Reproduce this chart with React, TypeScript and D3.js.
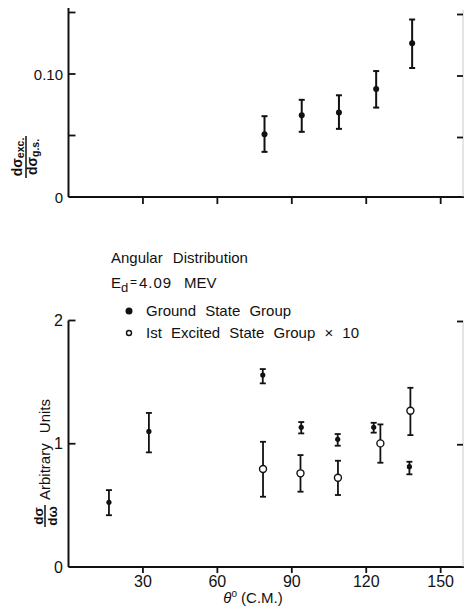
import React from "react";
import * as d3 from "d3";

const ratioAngles = [79, 94, 109, 124, 138.5];
const ratioValues = [0.0511, 0.0665, 0.0687, 0.0878, 0.1251];
const ratioLow = [0.0367, 0.053, 0.0554, 0.0727, 0.1049];
const ratioHigh = [0.0657, 0.079, 0.0827, 0.1024, 0.1443];

const groundAngles = [16.3, 32.4, 78.3, 93.8, 108.5, 123.0, 137.4];
const groundValues = [0.525, 1.1, 1.557, 1.133, 1.036, 1.133, 0.814];
const groundLow = [0.42, 0.93, 1.49, 1.084, 0.984, 1.09, 0.752];
const groundHigh = [0.624, 1.25, 1.606, 1.176, 1.079, 1.17, 0.854];

const excitedAngles = [78.4, 93.5, 108.6, 125.7, 137.8];
const excitedValues = [0.795, 0.76, 0.724, 1.003, 1.268];
const excitedLow = [0.57, 0.611, 0.584, 0.846, 1.07];
const excitedHigh = [1.016, 0.908, 0.862, 1.157, 1.454];

const xTicks = [30, 60, 90, 120, 150];
const topYTicks = [0.05, 0.1, 0.15];
const topYLabels = [
  { v: 0, t: "0" },
  { v: 0.1, t: "0.10" },
];
const botYTicks = [1, 2];
const botYLabels = [
  { v: 0, t: "0" },
  { v: 1, t: "1" },
  { v: 2, t: "2" },
];

const FONT = "'Liberation Sans', Arial, sans-serif";
const INK = "#111";

export default function App() {
  const x = d3.scaleLinear().domain([0, 159]).range([68.5, 463]);
  const yTop = d3.scaleLinear().domain([0, 0.15]).range([197, 12.5]);
  const yBot = d3.scaleLinear().domain([0, 2]).range([567, 320.5]);
  const x0 = x(0);
  const xR = 463;

  const errBar = (
    key: string,
    cx: number,
    lo: number,
    hi: number,
    cap: number,
    sw: number
  ) => (
    <g key={key} stroke={INK} strokeWidth={sw}>
      <line x1={cx} x2={cx} y1={lo} y2={hi} />
      <line x1={cx - cap} x2={cx + cap} y1={lo} y2={lo} />
      <line x1={cx - cap} x2={cx + cap} y1={hi} y2={hi} />
    </g>
  );

  return (
    <svg
      width={464}
      height={608}
      style={{ position: "absolute", left: 0, top: 0, background: "#fff" }}
      fontFamily={FONT}
    >
      <rect width={464} height={608} fill="#fff" />

      {/* ---------- TOP PLOT ---------- */}
      <g>
        <line x1={x0} x2={x0} y1={8} y2={yTop(0)} stroke={INK} strokeWidth={2} />
        <line x1={x0} x2={464} y1={yTop(0)} y2={yTop(0)} stroke={INK} strokeWidth={2} />
        <line x1={xR} x2={xR} y1={10} y2={yTop(0)} stroke="#bbb" strokeWidth={0.8} />
        {topYTicks.map((t) => (
          <g key={"tyt" + t} stroke={INK} strokeWidth={1.8}>
            <line x1={x0} x2={x0 + 7} y1={yTop(t)} y2={yTop(t)} />
            <line x1={xR - 6} x2={xR} y1={yTop(t) + 2} y2={yTop(t) + 2} />
          </g>
        ))}
        {xTicks.map((t) => (
          <line
            key={"txt" + t}
            x1={x(t)}
            x2={x(t)}
            y1={yTop(0)}
            y2={yTop(0) + 7}
            stroke={INK}
            strokeWidth={1.8}
          />
        ))}
        {topYLabels.map((d) => (
          <text
            key={"tyl" + d.t}
            x={63}
            y={yTop(d.v) + 5.5}
            textAnchor="end"
            fontSize={15}
            fill={INK}
          >
            {d.t}
          </text>
        ))}
        {ratioAngles.map((a, i) =>
          errBar("rb" + i, x(a), yTop(ratioLow[i]), yTop(ratioHigh[i]), 3, 2)
        )}
        {ratioAngles.map((a, i) => (
          <circle key={"rc" + i} cx={x(a)} cy={yTop(ratioValues[i])} r={3} fill={INK} />
        ))}
        {/* y label fraction */}
        <g transform="translate(26,157) rotate(-90)" fill={INK} fontWeight="bold">
          <text x={0} y={-4} textAnchor="middle" fontSize={14}>
            dσ<tspan fontSize={10.5} dy={2}>exc.</tspan>
          </text>
          <line x1={-21} x2={21} y1={0} y2={0} stroke={INK} strokeWidth={1.5} />
          <text x={0} y={10.5} textAnchor="middle" fontSize={14}>
            dσ<tspan fontSize={10.5} dy={2}>g.s.</tspan>
          </text>
        </g>
      </g>

      {/* ---------- LEGEND / TITLE ---------- */}
      <g fill={INK} fontSize={15}>
        <text x={111} y={263} wordSpacing={6}>
          Angular Distribution
        </text>
        <text x={111} y={288}>
          E<tspan fontSize={13} dy={4}>d</tspan>
        </text>
        <text x={130} y={286} fontSize={12}>=</text>
        <text x={139} y={288} letterSpacing={1}>4.09</text>
        <text x={184} y={288}>MEV</text>
        <circle cx={129} cy={311} r={3.5} fill={INK} />
        <text x={146} y={316} wordSpacing={5}>
          Ground State Group
        </text>
        <circle cx={129} cy={333} r={2.5} fill="#fff" stroke={INK} strokeWidth={1.4} />
        <text x={146} y={338} wordSpacing={5}>
          Ist Excited State Group × 10
        </text>
      </g>

      {/* ---------- BOTTOM PLOT ---------- */}
      <g>
        <line x1={x0} x2={x0} y1={yBot(2)} y2={yBot(0)} stroke={INK} strokeWidth={2} />
        <line x1={x0} x2={464} y1={yBot(0)} y2={yBot(0)} stroke={INK} strokeWidth={2} />
        <line x1={xR} x2={xR} y1={yBot(2)} y2={yBot(0)} stroke="#bbb" strokeWidth={0.8} />
        {botYTicks.map((t) => (
          <g key={"byt" + t} stroke={INK} strokeWidth={1.8}>
            <line x1={x0} x2={x0 + 7} y1={yBot(t)} y2={yBot(t)} />
            <line x1={xR - 6} x2={xR} y1={yBot(t) + 1} y2={yBot(t) + 1} />
          </g>
        ))}
        {xTicks.map((t) => (
          <g key={"bxt" + t}>
            <line
              x1={x(t)}
              x2={x(t)}
              y1={yBot(0)}
              y2={yBot(0) + 6}
              stroke={INK}
              strokeWidth={1.8}
            />
            <text x={x(t)} y={587} textAnchor="middle" fontSize={16} fill={INK}>
              {t}
            </text>
          </g>
        ))}
        {botYLabels.map((d) => (
          <text
            key={"byl" + d.t}
            x={63}
            y={yBot(d.v) + 5.5}
            textAnchor="end"
            fontSize={16}
            fill={INK}
          >
            {d.t}
          </text>
        ))}
        <text x={253} y={603} textAnchor="middle" fontSize={15} fill={INK}>
          <tspan fontStyle="italic">θ</tspan>
          <tspan dy={-6} fontSize={10}>o</tspan>
          <tspan dy={6}> (C.M.)</tspan>
        </text>

        {groundAngles.map((a, i) =>
          errBar("gb" + i, x(a), yBot(groundLow[i]), yBot(groundHigh[i]), 3, 1.8)
        )}
        {groundAngles.map((a, i) => (
          <circle key={"gc" + i} cx={x(a)} cy={yBot(groundValues[i])} r={2.6} fill={INK} />
        ))}
        {excitedAngles.map((a, i) =>
          errBar("eb" + i, x(a), yBot(excitedLow[i]), yBot(excitedHigh[i]), 3, 1.8)
        )}
        {excitedAngles.map((a, i) => (
          <circle
            key={"ec" + i}
            cx={x(a)}
            cy={yBot(excitedValues[i])}
            r={3.5}
            fill="#fff"
            stroke={INK}
            strokeWidth={1.4}
          />
        ))}

        {/* y label */}
        <g transform="translate(45,516) rotate(-90)" fill={INK}>
          <text x={0} y={-2} textAnchor="middle" fontSize={13.5} fontWeight="bold">
            dσ
          </text>
          <line x1={-11} x2={11} y1={0} y2={0} stroke={INK} strokeWidth={1.5} />
          <text x={0} y={11.5} textAnchor="middle" fontSize={13.5} fontWeight="bold">
            dω
          </text>
          <text x={16} y={4.5} fontSize={15} wordSpacing={6}>
            Arbitrary Units
          </text>
        </g>
      </g>
    </svg>
  );
}
